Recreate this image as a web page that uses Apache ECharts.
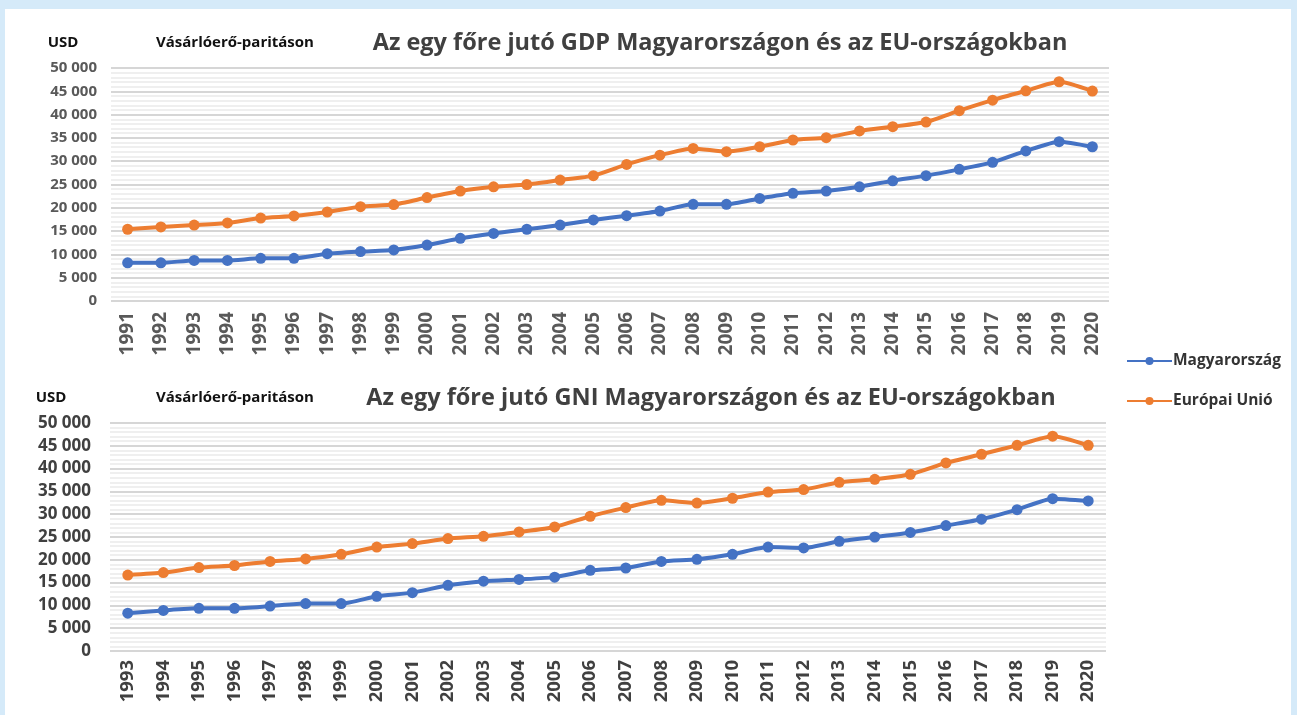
<!DOCTYPE html>
<html>
<head>
<meta charset="utf-8">
<script src="https://cdn.jsdelivr.net/npm/echarts@6/dist/echarts.min.js"></script>
<style>
  html, body { margin: 0; padding: 0; width: 1297px; height: 715px; background: #d5eaf9; overflow: hidden; }
  #panel { position: absolute; left: 5px; top: 9px; width: 1286px; height: 706px; background: #ffffff; }
  #chart { position: absolute; left: 0; top: 0; width: 1297px; height: 715px; }
</style>
</head>
<body>
<div id="panel"></div>
<div id="chart"></div>
<script>
// GDP per capita, PPP (USD), 1991–2020
const gdpYears = ['1991','1992','1993','1994','1995','1996','1997','1998','1999','2000',
  '2001','2002','2003','2004','2005','2006','2007','2008','2009','2010',
  '2011','2012','2013','2014','2015','2016','2017','2018','2019','2020'];
const gdpHungary = [8200, 8200, 8700, 8700, 9150, 9150, 10150, 10600, 10950, 12000,
  13450, 14500, 15400, 16300, 17400, 18300, 19300, 20750, 20750, 22000,
  23100, 23600, 24500, 25800, 26900, 28250, 29750, 32200, 34200, 33100];
const gdpEU = [15400, 15900, 16300, 16750, 17800, 18250, 19100, 20250, 20700, 22200,
  23600, 24500, 25000, 25950, 26900, 29300, 31300, 32750, 32050, 33100,
  34550, 35050, 36500, 37400, 38400, 40850, 43100, 45100, 47050, 45050];

// GNI per capita, PPP (USD), 1993–2020
const gniYears = ['1993','1994','1995','1996','1997','1998','1999','2000',
  '2001','2002','2003','2004','2005','2006','2007','2008','2009','2010',
  '2011','2012','2013','2014','2015','2016','2017','2018','2019','2020'];
const gniHungary = [8300, 8900, 9350, 9350, 9850, 10400, 10400, 12000,
  12800, 14400, 15300, 15700, 16200, 17700, 18200, 19650, 20100, 21200,
  22800, 22600, 24050, 25000, 26000, 27500, 28900, 31000, 33400, 32900];
const gniEU = [16650, 17200, 18300, 18750, 19650, 20200, 21200, 22800,
  23550, 24650, 25150, 26100, 27200, 29550, 31450, 33050, 32450, 33500,
  34850, 35400, 37000, 37650, 38750, 41250, 43150, 45100, 47100, 45100];

const seriesNames = ['Magyarország', 'Európai Unió'];
const titleGDP = 'Az egy főre jutó GDP Magyarországon és az EU-országokban';
const titleGNI = 'Az egy főre jutó GNI Magyarországon és az EU-országokban';
const unitText = 'USD';
const subText = 'Vásárlóerő-paritáson';

const BLUE = '#4472c4';
const ORANGE = '#ed7d31';
const FONT = '"Open Sans", "Noto Sans", sans-serif';

const fmtThousands = v => v === 0 ? '0' : String(v).replace(/\B(?=(\d{3})+(?!\d))/g, ' ');

function yAxis(gridIndex, size, color, margin) {
  return {
    type: 'value', gridIndex, min: 0, max: 50000, interval: 5000,
    axisLine: { show: false }, axisTick: { show: false },
    axisLabel: { formatter: fmtThousands, fontFamily: FONT, fontWeight: 'bold', fontSize: size, color, margin },
    splitLine: { lineStyle: { color: '#d6d6d6', width: 2 } },
    minorTick: { show: false, splitNumber: 5 },
    minorSplitLine: { show: true, lineStyle: { color: '#efefef', width: 2 } }
  };
}
function xAxis(gridIndex, data, size, color, margin) {
  return {
    type: 'category', gridIndex, data, boundaryGap: true,
    axisLine: { show: false }, axisTick: { show: false },
    axisLabel: { rotate: 90, interval: 0, fontFamily: FONT, fontWeight: 'bold', fontSize: size, color, margin }
  };
}
function line(name, color, data, idx) {
  return {
    name, type: 'line', xAxisIndex: idx, yAxisIndex: idx, data,
    smooth: 0.2, symbol: 'circle', symbolSize: 11,
    lineStyle: { color, width: 4 }, itemStyle: { color },
    emphasis: { disabled: true }
  };
}
function text(x, y, str, size, color, align) {
  return { type: 'text', x, y, style: { text: str, font: `bold ${size}px ${FONT}`, fill: color, align: align || 'center', verticalAlign: 'middle' } };
}

const chart = echarts.init(document.getElementById('chart'));
chart.setOption({
  backgroundColor: 'transparent',
  animation: false,
  grid: [
    { left: 111, right: 188, top: 68, height: 233 },
    { left: 110, right: 191, top: 423, height: 228 }
  ],
  xAxis: [xAxis(0, gdpYears, 19, '#595959', 11), xAxis(1, gniYears, 18.5, '#404040', 9)],
  yAxis: [yAxis(0, 15, '#595959', 14), yAxis(1, 17, '#404040', 19)],
  legend: {
    data: seriesNames, orient: 'vertical', left: 1121, top: 348, itemGap: 24,
    itemWidth: 45, itemHeight: 10,
    textStyle: { fontFamily: FONT, fontWeight: 'bold', fontSize: 15.5, color: '#333333', padding: [0, 0, 0, -4] }
  },
  graphic: [
    text(63, 43, unitText, 15, '#111111'),
    text(235, 43, subText, 15, '#111111'),
    text(720, 43, titleGDP, 23.5, '#404040'),
    text(51, 398, unitText, 15, '#111111'),
    text(235, 398, subText, 15, '#111111'),
    text(711, 398, titleGNI, 23.5, '#404040')
  ],
  series: [
    line(seriesNames[0], BLUE, gdpHungary, 0),
    line(seriesNames[1], ORANGE, gdpEU, 0),
    line(seriesNames[0], BLUE, gniHungary, 1),
    line(seriesNames[1], ORANGE, gniEU, 1)
  ]
});
</script>
</body>
</html>
